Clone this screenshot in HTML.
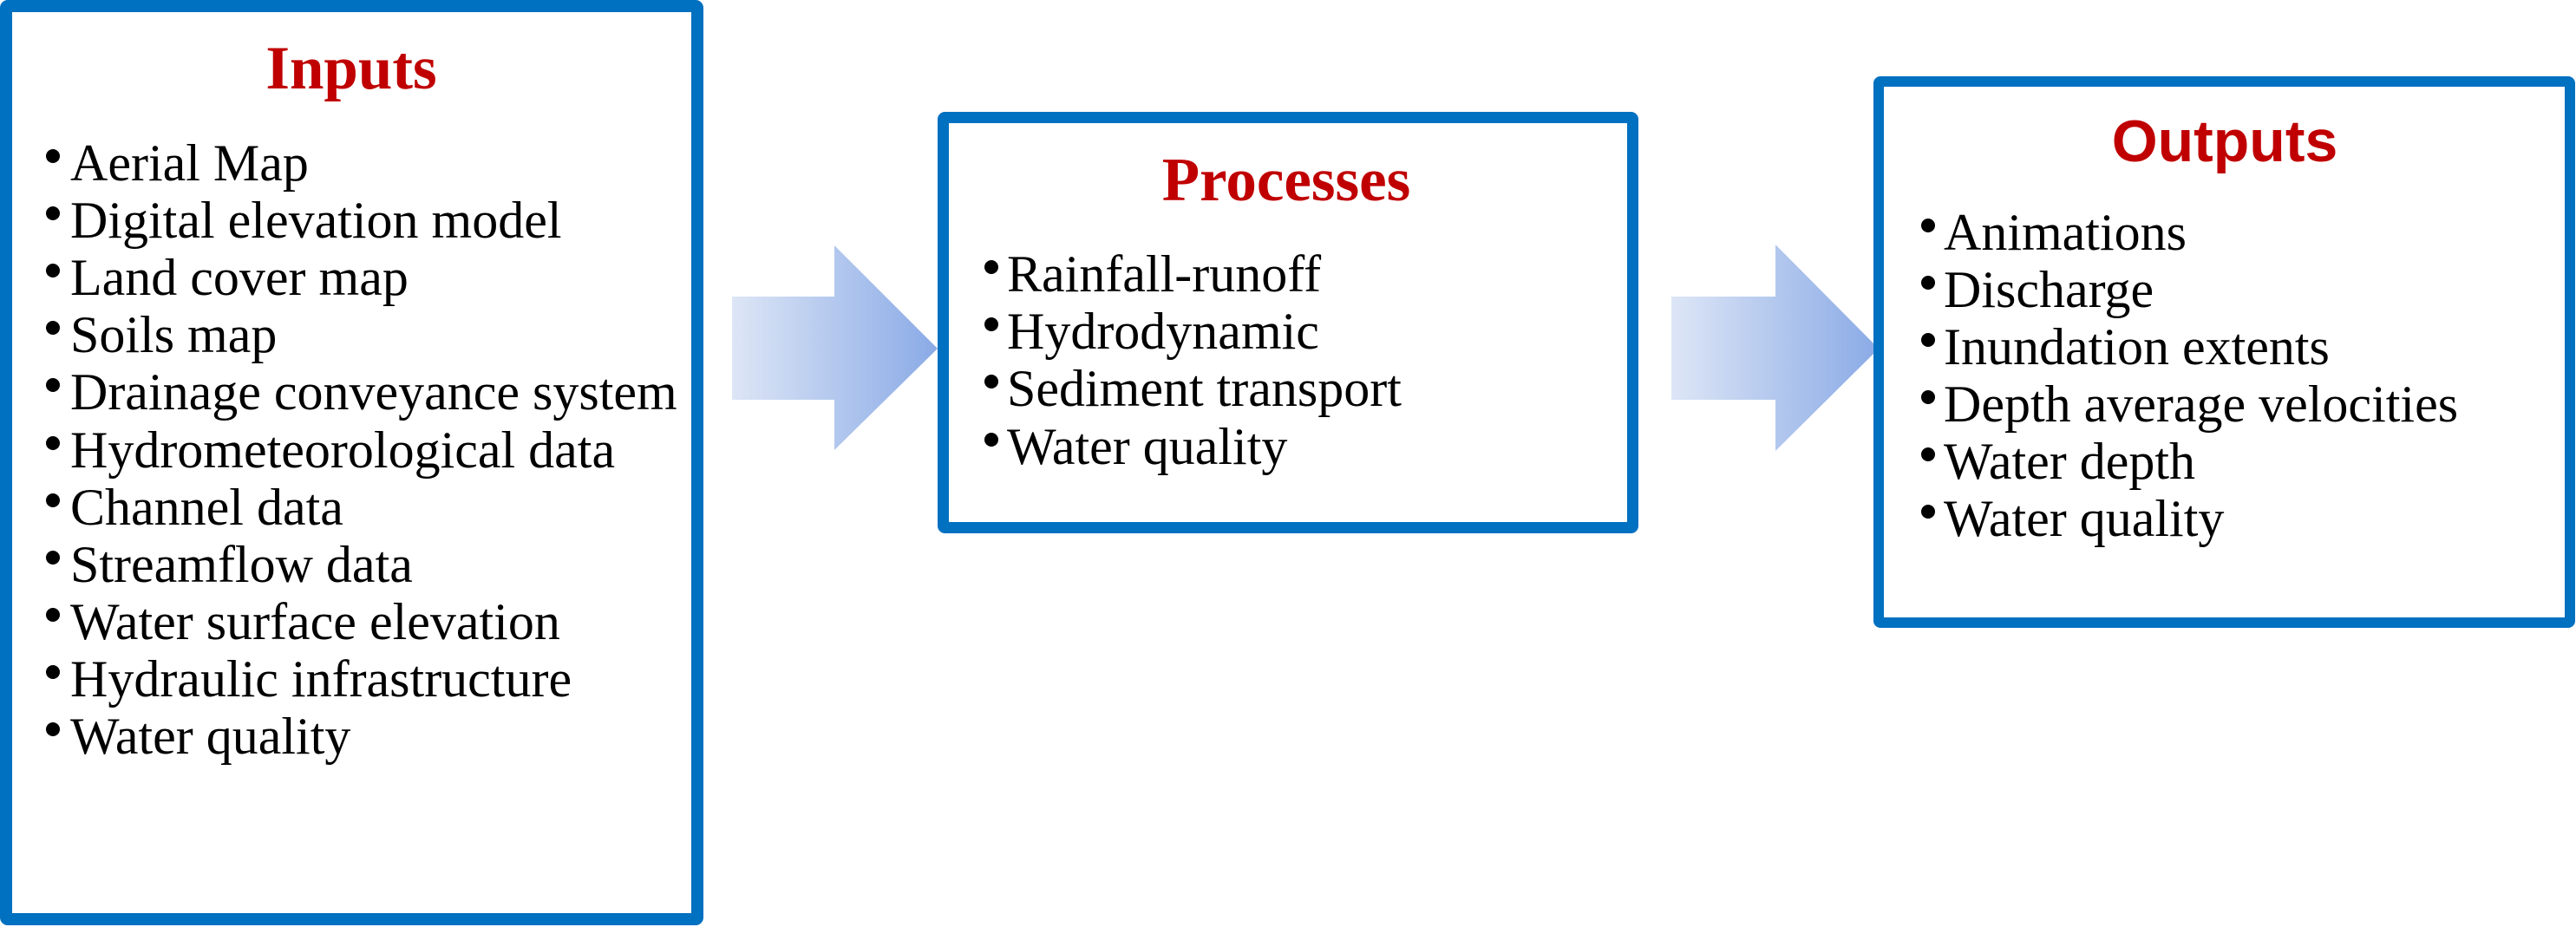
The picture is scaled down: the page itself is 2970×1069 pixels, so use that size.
<!DOCTYPE html>
<html><head><meta charset="utf-8"><style>
html,body{margin:0;padding:0;background:#fff;}
svg{display:block;}
</style></head><body>
<svg width="2970" height="1069" viewBox="0 0 2970 1069" xmlns="http://www.w3.org/2000/svg">
<defs>
<linearGradient id="g" x1="0" y1="0" x2="1" y2="0">
<stop offset="0" stop-color="#dde6f6"/><stop offset="1" stop-color="#8aaae6"/>
</linearGradient>
</defs>
<rect width="2970" height="1069" fill="#fff"/>
<polygon points="844,342 962,342 962,283 1081,402 962,519 962,461 844,461" fill="url(#g)"/>
<polygon points="1927,342 2047,342 2047,282 2166,402 2047,520 2047,461 1927,461" fill="url(#g)"/>
<rect x="7" y="7" width="797" height="1053" fill="#fff" stroke="#0070c0" stroke-width="14" rx="2"/>
<rect x="1087.5" y="135.5" width="795" height="473" fill="#fff" stroke="#0070c0" stroke-width="13" rx="2"/>
<rect x="2166" y="94" width="797" height="624" fill="#fff" stroke="#0070c0" stroke-width="12" rx="2"/>
<text x="405" y="102" text-anchor="middle" font-family="Liberation Serif, serif" font-weight="bold" font-size="71" fill="#c00000">Inputs</text>
<g font-family="Liberation Serif, serif" font-size="60" fill="#000">
<text x="81" y="208">Aerial Map</text>
<text x="81" y="274">Digital elevation model</text>
<text x="81" y="340">Land cover map</text>
<text x="81" y="406">Soils map</text>
<text x="81" y="472">Drainage conveyance system</text>
<text x="81" y="539">Hydrometeorological data</text>
<text x="81" y="605">Channel data</text>
<text x="81" y="671">Streamflow data</text>
<text x="81" y="737">Water surface elevation</text>
<text x="81" y="803">Hydraulic infrastructure</text>
<text x="81" y="869">Water quality</text>
</g>
<g fill="#000">
<circle cx="61" cy="180" r="8"/><circle cx="61" cy="246" r="8"/><circle cx="61" cy="312" r="8"/>
<circle cx="61" cy="378" r="8"/><circle cx="61" cy="444" r="8"/><circle cx="61" cy="511" r="8"/>
<circle cx="61" cy="577" r="8"/><circle cx="61" cy="643" r="8"/><circle cx="61" cy="709" r="8"/>
<circle cx="61" cy="775" r="8"/><circle cx="61" cy="841" r="8"/>
</g>
<text x="1483" y="231" text-anchor="middle" font-family="Liberation Serif, serif" font-weight="bold" font-size="71" fill="#c00000">Processes</text>
<g font-family="Liberation Serif, serif" font-size="60" fill="#000">
<text x="1161" y="336">Rainfall-runoff</text>
<text x="1161" y="402">Hydrodynamic</text>
<text x="1161" y="468">Sediment transport</text>
<text x="1161" y="535">Water quality</text>
</g>
<g fill="#000">
<circle cx="1143" cy="308" r="8"/><circle cx="1143" cy="374" r="8"/>
<circle cx="1143" cy="440" r="8"/><circle cx="1143" cy="507" r="8"/>
</g>
<text x="2565" y="186" text-anchor="middle" font-family="Liberation Sans, sans-serif" font-weight="bold" font-size="68" fill="#c00000">Outputs</text>
<g font-family="Liberation Serif, serif" font-size="60" fill="#000">
<text x="2241" y="288">Animations</text>
<text x="2241" y="354">Discharge</text>
<text x="2241" y="420">Inundation extents</text>
<text x="2241" y="486">Depth average velocities</text>
<text x="2241" y="552">Water depth</text>
<text x="2241" y="618">Water quality</text>
</g>
<g fill="#000">
<circle cx="2223" cy="260" r="8"/><circle cx="2223" cy="326" r="8"/><circle cx="2223" cy="392" r="8"/>
<circle cx="2223" cy="458" r="8"/><circle cx="2223" cy="524" r="8"/><circle cx="2223" cy="590" r="8"/>
</g>
</svg>
</body></html>
